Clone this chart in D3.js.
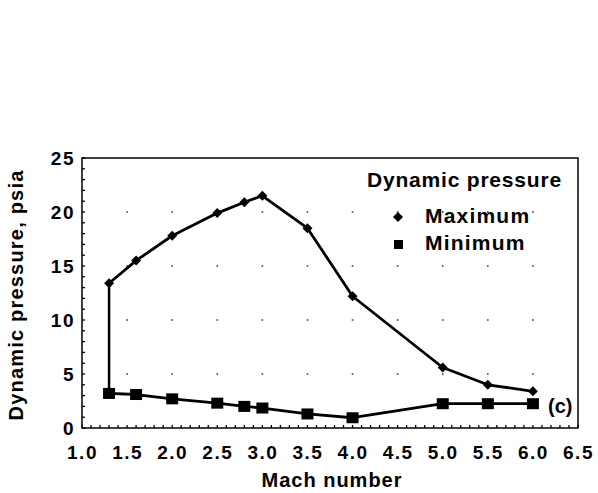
<!DOCTYPE html>
<html><head><meta charset="utf-8">
<script src="https://cdn.jsdelivr.net/npm/d3@7"></script>
<style>body{margin:0;background:#fff;}svg{display:block;}text{font-family:"Liberation Sans",Arial,sans-serif;fill:#000;font-weight:bold;}</style>
</head><body><div id="c"></div>
<script>
const machMax = [1.3,1.6,2.0,2.5,2.8,3.0,3.5,4.0,5.0,5.5,6.0];
const qMax    = [13.4,15.5,17.8,19.9,20.9,21.5,18.5,12.2,5.6,4.0,3.4];
const machMin = [1.3,1.6,2.0,2.5,2.8,3.0,3.5,4.0,5.0,5.5,6.0];
const qMin    = [3.2,3.1,2.7,2.3,2.0,1.85,1.3,0.95,2.25,2.25,2.25];
const xTicks = [1.0,1.5,2.0,2.5,3.0,3.5,4.0,4.5,5.0,5.5,6.0,6.5];
const yTicks = [0,5,10,15,20,25];
const legendTitle = "Dynamic pressure";
const seriesNames = ["Maximum","Minimum"];

const W=598,H=493;
const svg=d3.select("#c").append("svg").attr("width",W).attr("height",H);
const x=d3.scaleLinear().domain([1.0,6.5]).range([82,578]);
const y=d3.scaleLinear().domain([0,25]).range([428,158]);
const FF="Liberation Sans,Arial,sans-serif";

// grid dots at intersections
const gx=xTicks.slice(1,-1), gy=yTicks.slice(1,-1);
const grid=svg.append("g");
gx.forEach(a=>gy.forEach(b=>{
  grid.append("rect").attr("x",x(a)-0.8).attr("y",y(b)-0.8).attr("width",1.6).attr("height",1.6).attr("fill","#444");
}));

// minor ticks
const minorX=d3.range(10,66).map(d=>d/10);
svg.append("g").selectAll("line").data(minorX).join("line")
  .attr("x1",d=>x(d)).attr("x2",d=>x(d)).attr("y1",y(0)).attr("y2",y(0)-3)
  .attr("stroke","#000").attr("stroke-width",1.3);
const minorY=d3.range(0,26);
svg.append("g").selectAll("line").data(minorY).join("line")
  .attr("x1",x(1)).attr("x2",x(1)+3).attr("y1",d=>y(d)).attr("y2",d=>y(d))
  .attr("stroke","#000").attr("stroke-width",1.3);

// frame
svg.append("rect").attr("x",x(1)).attr("y",y(25)).attr("width",x(6.5)-x(1)).attr("height",y(0)-y(25))
  .attr("fill","none").attr("stroke","#000").attr("stroke-width",1.5);

// axes labels
const xa=d3.axisBottom(x).tickValues(xTicks).tickFormat(d3.format(".1f")).tickSize(0).tickPadding(0);
const gxa=svg.append("g").attr("transform",`translate(0,${y(0)})`).call(xa);
gxa.select(".domain").remove();
gxa.selectAll("text").attr("y",31).attr("dy",null).attr("font-size",19).attr("letter-spacing",1.5)
  .attr("font-family",FF).attr("font-weight","bold").attr("fill","#000");
const ya=d3.axisLeft(y).tickValues(yTicks).tickSize(0).tickPadding(0);
const gya=svg.append("g").attr("transform",`translate(${x(1)},0)`).call(ya);
gya.select(".domain").remove();
gya.selectAll("text").attr("x",-7).attr("dy","0.36em").attr("font-size",19).attr("letter-spacing",1.5)
  .attr("font-family",FF).attr("font-weight","bold").attr("fill","#000");

// connecting vertical line and series lines
const maxPts=machMax.map((m,i)=>[m,qMax[i]]);
const minPts=machMin.map((m,i)=>[m,qMin[i]]);
const line=d3.line().x(d=>x(d[0])).y(d=>y(d[1]));
svg.append("path").attr("d",line([minPts[0],maxPts[0]])).attr("fill","none").attr("stroke","#000").attr("stroke-width",2.5);
svg.append("path").attr("d",line(maxPts)).attr("fill","none").attr("stroke","#000").attr("stroke-width",2.8).attr("stroke-linejoin","round");
svg.append("path").attr("d",line(minPts)).attr("fill","none").attr("stroke","#000").attr("stroke-width",2.8).attr("stroke-linejoin","round");

const diamond=d3.symbol().type(d3.symbolDiamond2).size(64);
svg.append("g").selectAll("path").data(maxPts).join("path")
  .attr("transform",d=>`translate(${x(d[0])},${y(d[1])})`).attr("d",diamond).attr("fill","#000");
svg.append("g").selectAll("rect").data(minPts).join("rect")
  .attr("x",d=>x(d[0])-6).attr("y",d=>y(d[1])-5.5).attr("width",12).attr("height",11).attr("fill","#000");

// legend
svg.append("text").attr("x",367).attr("y",187).attr("font-size",21).attr("letter-spacing",0.8).text(legendTitle);
svg.append("path").attr("transform","translate(398,217)").attr("d",diamond).attr("fill","#000");
svg.append("rect").attr("x",394).attr("y",240).attr("width",9).attr("height",9).attr("fill","#000");
svg.append("text").attr("x",425).attr("y",223).attr("font-size",21).attr("letter-spacing",1.2).text(seriesNames[0]);
svg.append("text").attr("x",425).attr("y",250).attr("font-size",21).attr("letter-spacing",1.2).text(seriesNames[1]);
svg.append("text").attr("x",548).attr("y",413).attr("font-size",20).text("(c)");

// axis titles
svg.append("text").attr("x",332).attr("y",487).attr("text-anchor","middle").attr("font-size",20).attr("letter-spacing",1).text("Mach number");
svg.append("text").attr("transform","translate(23,295) rotate(-90)").attr("text-anchor","middle").attr("font-size",20).attr("letter-spacing",1.2).text("Dynamic pressure, psia");
</script></body></html>
